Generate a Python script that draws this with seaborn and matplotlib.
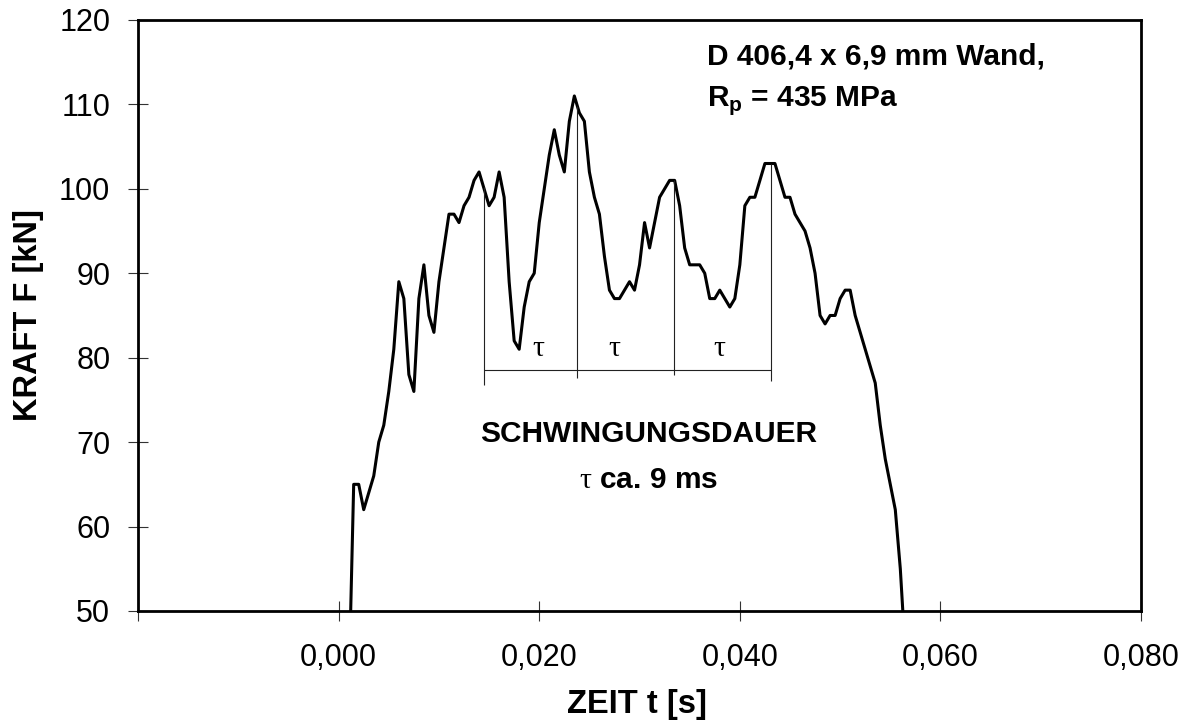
import numpy as np
import matplotlib.pyplot as plt
from matplotlib.ticker import FixedLocator, FuncFormatter
import seaborn as sns

sns.set_theme(style="ticks", rc={"axes.edgecolor": "black", "text.color": "black",
                                 "axes.labelcolor": "black", "xtick.color": "black",
                                 "ytick.color": "black"})
plt.rcParams['font.family'] = ['Liberation Sans', 'DejaVu Sans']
plt.rcParams['mathtext.fontset'] = 'custom'
plt.rcParams['mathtext.rm'] = 'Liberation Serif'
plt.rcParams['mathtext.bf'] = 'Liberation Sans:bold'

# force signal, one sample every 0.5 ms
time_ms = [
    1.0, 1.5, 2.0, 2.5, 3.0, 3.5, 4.0, 4.5, 5.0, 5.5,
    6.0, 6.5, 7.0, 7.5, 8.0, 8.5, 9.0, 9.5, 10.0, 10.5,
    11.0, 11.5, 12.0, 12.5, 13.0, 13.5, 14.0, 14.5, 15.0, 15.5,
    16.0, 16.5, 17.0, 17.5, 18.0, 18.5, 19.0, 19.5, 20.0, 20.5,
    21.0, 21.5, 22.0, 22.5, 23.0, 23.5, 24.0, 24.5, 25.0, 25.5,
    26.0, 26.5, 27.0, 27.5, 28.0, 28.5, 29.0, 29.5, 30.0, 30.5,
    31.0, 31.5, 32.0, 32.5, 33.0, 33.5, 34.0, 34.5, 35.0, 35.5,
    36.0, 36.5, 37.0, 37.5, 38.0, 38.5, 39.0, 39.5, 40.0, 40.5,
    41.0, 41.5, 42.0, 42.5, 43.0, 43.5, 44.0, 44.5, 45.0, 45.5,
    46.0, 46.5, 47.0, 47.5, 48.0, 48.5, 49.0, 49.5, 50.0, 50.5,
    51.0, 51.5, 52.0, 52.5, 53.0, 53.5, 54.0, 54.5, 55.0, 55.5,
    56.0, 56.5,
]
force_kn = [
    40, 65, 65, 62, 64, 66, 70, 72, 76, 81,
    89, 87, 78, 76, 87, 91, 85, 83, 89, 93,
    97, 97, 96, 98, 99, 101, 102, 100, 98, 99,
    102, 99, 89, 82, 81, 86, 89, 90, 96, 100,
    104, 107, 104, 102, 108, 111, 109, 108, 102, 99,
    97, 92, 88, 87, 87, 88, 89, 88, 91, 96,
    93, 96, 99, 100, 101, 101, 98, 93, 91, 91,
    91, 90, 87, 87, 88, 87, 86, 87, 91, 98,
    99, 99, 101, 103, 103, 103, 101, 99, 99, 97,
    96, 95, 93, 90, 85, 84, 85, 85, 87, 88,
    88, 85, 83, 81, 79, 77, 72, 68, 65, 62,
    55, 45,
]

# period markers (ms) and where their lines end (kN)
period_ms = [14.45, 23.8, 33.4, 43.1]
period_top = [100.2, 109.8, 101.0, 103.0]
period_bottom = [76.8, 77.6, 78.0, 77.2]
tau_label_ms = [19.9, 27.5, 38.0]

x_ticks = [-0.02, 0.0, 0.02, 0.04, 0.06, 0.08]
y_ticks = [50, 60, 70, 80, 90, 100, 110, 120]

time_s = np.array(time_ms) / 1000.0

fig = plt.figure(figsize=(11.84, 7.21), dpi=100)
ax = fig.add_axes([0.1166, 0.1526, 0.8471, 0.8197])

sns.lineplot(x=time_s, y=force_kn, ax=ax, color='black', linewidth=2.2)

# dimension lines for the oscillation period
ax.vlines(np.array(period_ms) / 1000.0, period_bottom, period_top, color='#222222', linewidth=0.8)
ax.hlines(78.6, period_ms[0] / 1000.0, period_ms[-1] / 1000.0, color='#222222', linewidth=0.8)
for t in tau_label_ms:
    ax.text(t / 1000.0, 80.25, 'τ', fontsize=21.5, family='Liberation Serif',
            color='black', ha='center', va='baseline')

ax.text(0.0309, 70.05, 'SCHWINGUNGSDAUER', fontsize=21.5, fontweight='bold',
        color='black', ha='center', va='baseline')
ax.text(0.0309, 64.6, r'$\mathrm{\tau}$ ca. 9 ms', fontsize=21.5, fontweight='bold',
        color='black', ha='center', va='baseline')

ax.text(0.0367, 114.77, 'D 406,4 x 6,9 mm Wand,', fontsize=21.5, fontweight='bold',
        color='black', ha='left', va='baseline')
ax.text(0.0367, 109.79, r'R$_\mathbf{p}$ = 435 MPa', fontsize=21.5, fontweight='bold',
        color='black', ha='left', va='baseline')

ax.set_xlim(-0.02, 0.08)
ax.set_ylim(50, 120)
ax.xaxis.set_major_locator(FixedLocator(x_ticks))
ax.yaxis.set_major_locator(FixedLocator(y_ticks))
ax.xaxis.set_major_formatter(FuncFormatter(lambda v, p: '' if v < -1e-9 else f'{abs(v):.3f}'.replace('.', ',')))

for side in ['top', 'right', 'bottom', 'left']:
    ax.spines[side].set_visible(True)
    ax.spines[side].set_color('black')
    ax.spines[side].set_linewidth(2.0)

ax.tick_params(direction='inout', length=14, width=0.8, color='#333333', labelsize=22, labelcolor='black')
ax.tick_params(axis='x', pad=16)
ax.tick_params(axis='y', pad=13)

ax.set_xlabel('ZEIT t [s]', fontsize=23.5, fontweight='bold', color='black')
ax.set_ylabel('KRAFT F [kN]', fontsize=23.5, fontweight='bold', color='black')
ax.xaxis.set_label_coords(0.497, -0.132)
ax.yaxis.set_label_coords(-0.0937, 0.5)

fig.savefig('out.png', dpi=100)
